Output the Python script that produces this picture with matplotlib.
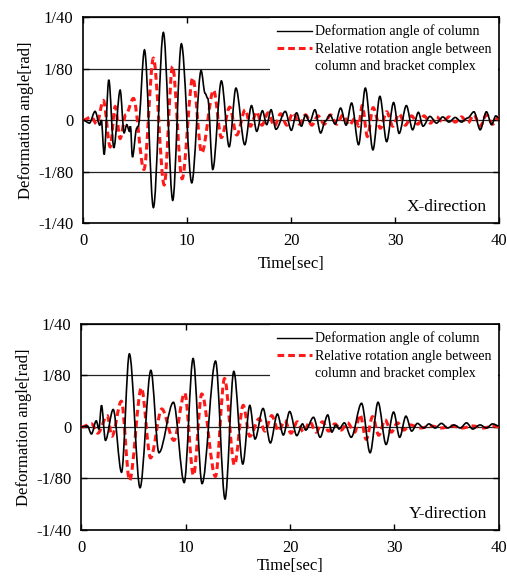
import numpy as np
import matplotlib
matplotlib.use("Agg")
import matplotlib.pyplot as plt
from matplotlib.lines import Line2D
from matplotlib.path import Path
from matplotlib.patches import PathPatch

plt.rcParams['font.family'] = ['Liberation Serif', 'DejaVu Serif']

# values, in units of 1/40 rad (peaks and troughs)
# X-direction
t_x_col = [0.0, 0.6, 1.15, 1.6, 1.75, 2.02, 2.47, 2.95, 3.56, 3.94, 4.2, 4.45, 4.55,
           4.74, 5.16, 5.3, 5.9, 6.76, 7.72, 8.62, 9.45, 10.45, 11.35, 11.73, 11.99,
           12.47, 13.3, 14.05, 14.7, 15.55, 16.2, 16.7, 17.25, 17.66, 18.08, 18.55,
           19.45, 20.03, 20.54, 21.0, 21.4, 21.8, 22.3, 22.85, 23.3, 23.75, 24.25,
           24.77, 25.3, 25.83, 26.5, 27.15, 27.88, 28.55, 29.2, 29.87, 30.4, 31.1,
           31.7, 32.25, 32.7, 33.37, 34.0, 34.6, 35.2, 35.8, 36.4, 37.0, 37.6, 38.2,
           38.8, 39.3, 39.7, 40.0]
v_x_col = [0.0, -0.03, 0.084, -0.05, 0.0, -0.335, 0.39, -0.27, 0.29, -0.125, -0.045,
           -0.11, -0.06, -0.36, -0.08, -0.06, 0.68, -0.85, 0.85, -0.78, 0.74, -0.61,
           0.48, 0.26, 0.21, -0.48, 0.38, -0.26, 0.31, -0.24, 0.14, -0.11, 0.09,
           -0.045, 0.1, -0.09, 0.084, -0.1, 0.07, -0.06, 0.05, -0.02, 0.1, -0.126,
           -0.01, 0.05, -0.04, 0.116, -0.05, 0.165, -0.24, 0.31, -0.29, 0.23, -0.21,
           0.17, -0.13, 0.14, -0.095, 0.075, -0.06, 0.035, -0.03, 0.03, -0.02, 0.025,
           -0.02, 0.02, 0.08, -0.095, 0.08, -0.045, 0.04, 0.02]
t_x_rel = [0.0, 0.8, 1.3, 1.95, 2.6, 3.08, 3.56, 4.1, 4.84, 5.85, 6.76, 7.8, 8.6,
           9.52, 10.55, 11.41, 12.55, 13.3, 14.1, 14.78, 15.6, 16.1, 16.7, 17.2,
           17.8, 18.4, 19.0, 19.6, 20.2, 20.8, 21.4, 22.0, 22.6, 23.2, 23.8, 24.4,
           25.0, 25.6, 26.2, 26.5, 26.85, 27.35, 27.9, 28.6, 29.2, 29.8, 30.4, 31.0,
           31.6, 32.2, 32.8, 33.4, 34.0, 34.6, 35.2, 35.8, 36.4, 37.0, 37.6, 38.2,
           38.8, 39.4, 40.0]
v_x_rel = [0.0, 0.03, -0.04, 0.19, -0.26, 0.13, -0.18, 0.05, 0.21, -0.48, 0.60,
           -0.63, 0.52, -0.57, 0.41, -0.32, 0.29, -0.17, 0.125, -0.145, 0.1, -0.06,
           0.08, -0.05, 0.07, -0.06, 0.06, -0.05, 0.07, -0.04, 0.05, -0.05, 0.04,
           -0.04, 0.05, -0.04, 0.05, -0.05, 0.02, -0.06, 0.14, -0.16, 0.12, -0.08,
           0.08, -0.06, 0.06, -0.05, 0.04, -0.04, 0.04, -0.03, 0.03, -0.02, 0.03,
           -0.02, 0.03, -0.03, 0.05, -0.06, 0.05, -0.04, 0.03]

# Y-direction
t_y_col = [0.0, 0.6, 0.99, 1.45, 1.7, 1.95, 2.33, 3.07, 3.87, 4.62, 5.64, 6.68, 7.45,
           8.84, 9.87, 10.72, 11.58, 12.87, 13.78, 14.62, 15.48, 16.15, 16.65, 17.42,
           18.12, 18.79, 19.36, 19.97, 20.65, 21.2, 21.5, 22.25, 22.88, 23.62, 24.0,
           24.4, 24.7, 25.2, 25.86, 26.85, 27.67, 28.43, 29.2, 29.92, 30.5, 31.1,
           31.65, 32.2, 32.8, 33.3, 33.9, 34.5, 35.1, 35.7, 36.3, 36.9, 37.5, 38.2,
           38.8, 39.4, 40.0]
v_y_col = [0.0, 0.01, -0.068, 0.06, -0.02, 0.21, -0.13, 0.17, -0.44, 0.71, -0.59,
           0.55, -0.25, 0.24, -0.54, 0.665, -0.55, 0.64, -0.70, 0.54, -0.36, 0.21,
           -0.117, 0.18, -0.155, 0.126, -0.078, 0.15, -0.084, 0.03, -0.03, 0.094,
           -0.1, 0.117, -0.05, 0.02, -0.02, 0.04, -0.1, 0.23, -0.25, 0.24, -0.17,
           0.145, -0.1, 0.105, -0.04, 0.035, -0.01, 0.03, -0.01, 0.035, -0.01, 0.02,
           -0.01, 0.04, -0.02, 0.02, -0.01, 0.03, 0.01]
t_y_rel = [0.0, 1.0, 1.6, 2.5, 2.95, 3.85, 4.64, 5.77, 6.65, 7.72, 8.88, 9.92, 10.76,
           11.55, 12.86, 13.73, 14.68, 15.52, 16.15, 17.05, 17.6, 18.25, 18.9, 19.5,
           20.1, 20.7, 21.3, 21.9, 22.5, 23.1, 23.7, 24.3, 24.9, 25.5, 26.2, 26.7,
           27.3, 27.9, 28.5, 29.1, 29.7, 30.3, 30.9, 31.5, 32.5, 33.5, 34.5, 35.5,
           36.5, 37.5, 38.5, 39.5, 40.0]
v_y_rel = [0.0, 0.03, -0.06, 0.11, -0.09, 0.25, -0.52, 0.38, -0.3, 0.175, -0.13, 0.33,
           -0.47, 0.32, -0.48, 0.47, -0.37, 0.21, -0.09, 0.08, -0.04, 0.11, -0.04,
           0.06, -0.06, 0.05, -0.05, 0.05, -0.05, 0.05, -0.04, 0.03, -0.03, 0.04,
           -0.05, 0.12, -0.12, 0.1, -0.08, 0.07, -0.05, 0.04, -0.03, 0.02, -0.01,
           0.01, -0.01, 0.01, -0.01, 0.01, -0.01, 0.01, 0.0]

ytick_vals = [-1/40, -1/80, 0, 1/80, 1/40]
ytick_labels = ['-1/40', '-1/80', '0', '1/80', '1/40']
xtick_vals = [0, 10, 20, 30, 40]
label_col = 'Deformation angle of column'
label_rel1 = 'Relative rotation angle between'
label_rel2 = 'column and bracket complex'

RED = '#ff1a1a'
DASH = (0, (2.2, 1.3))


def wave(t, v):
    # smooth curve through the read extrema (flat tangent at each point)
    t = np.asarray(t, float)
    y = np.asarray(v, float) / 40
    verts = [(t[0], y[0])]
    codes = [Path.MOVETO]
    for i in range(len(t) - 1):
        dt = t[i + 1] - t[i]
        verts += [(t[i] + dt / 3, y[i]), (t[i + 1] - dt / 3, y[i + 1]),
                  (t[i + 1], y[i + 1])]
        codes += [Path.CURVE4] * 3
    return Path(verts, codes)


fig = plt.figure(figsize=(5.07, 5.77), dpi=100)
ax1 = fig.add_axes([0.164, 0.6135, 0.820, 0.357])
ax2 = fig.add_axes([0.160, 0.0815, 0.824, 0.357])


def panel(ax, tc, vc, tr, vr, direction, xlabelpad):
    ax.set_xlim(0, 40)
    ax.set_ylim(-1/40, 1/40)
    ax.set_yticks(ytick_vals)
    ax.set_yticklabels(ytick_labels)
    ax.set_xticks(xtick_vals)
    ax.tick_params(direction='in', top=True, right=True, labelsize=12, length=4,
                   width=1, pad=7)
    for s in ax.spines.values():
        s.set_linewidth(1.2)
    ax.grid(axis='y', color='#222222', linewidth=0.9, zorder=1)
    ax.set_axisbelow(True)
    ax.add_patch(PathPatch(wave(tr, vr), fill=False, edgecolor=RED, lw=2.2,
                           ls=DASH, zorder=3))
    ax.add_patch(PathPatch(wave(tc, vc), fill=False, edgecolor='black', lw=1.2,
                           zorder=4))
    h1 = Line2D([], [], color='black', lw=1.0)
    h2 = Line2D([], [], color=RED, lw=2.2, ls=DASH)
    h3 = Line2D([], [], color='none')
    leg = ax.legend([h1, h2, h3], [label_col, label_rel1, label_rel2],
                    loc='upper right', bbox_to_anchor=(1.0, 1.0), fontsize=10,
                    frameon=True, fancybox=False, handlelength=2.5,
                    handletextpad=0.2, labelspacing=0.3, borderpad=0.5,
                    borderaxespad=0.05)
    leg.get_frame().set_edgecolor('none')
    leg.get_frame().set_facecolor('white')
    leg.get_frame().set_alpha(1.0)
    leg.set_zorder(5)
    ax.text(0.972, 0.06, direction, transform=ax.transAxes, ha='right',
            va='baseline', fontsize=12.5, zorder=6)
    ax.set_xlabel('Time[sec]', fontsize=12, labelpad=xlabelpad)
    ax.set_ylabel('Deformation angle[rad]', fontsize=12, labelpad=3)


panel(ax1, t_x_col, v_x_col, t_x_rel, v_x_rel, 'X-direction', 5)
panel(ax2, t_y_col, v_y_col, t_y_rel, v_y_rel, 'Y-direction', 2)

fig.savefig('out.png', dpi=100)
